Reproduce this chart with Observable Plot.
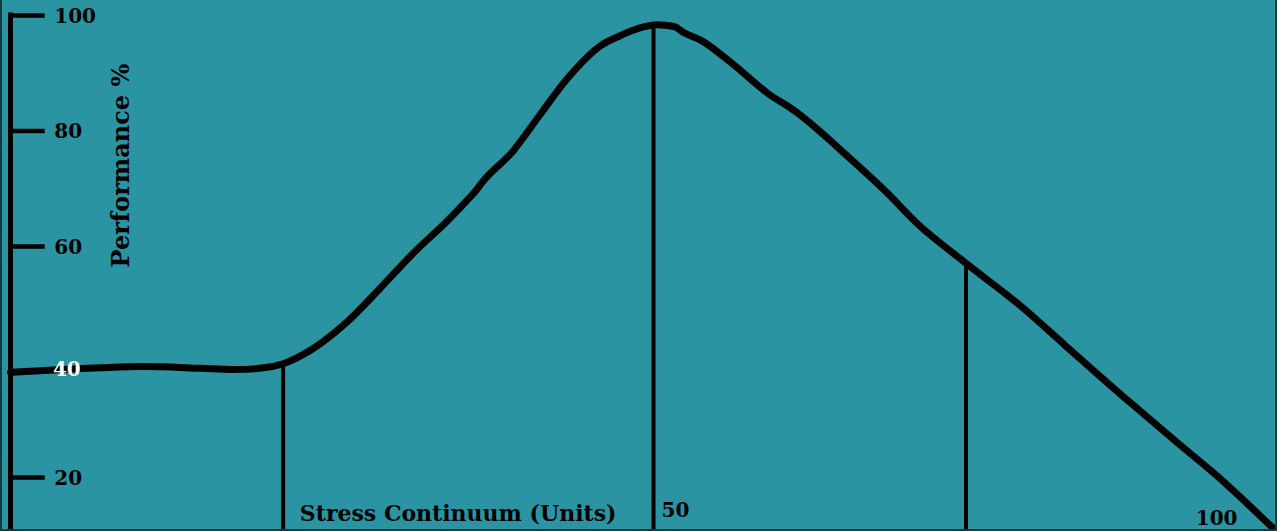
<!DOCTYPE html>
<html>
<head>
<meta charset="utf-8">
<script src="https://cdn.jsdelivr.net/npm/d3@7"></script>
<script src="https://cdn.jsdelivr.net/npm/@observablehq/plot@0.6"></script>
<style>
  html, body { margin: 0; padding: 0; background: #ffffff; }
  #wrap { position: relative; width: 1277px; height: 531px; overflow: hidden; }
  #wrap svg { display: block; }
  #edge { position: absolute; left: 0; top: 0; width: 1277px; height: 531px; box-sizing: border-box;
          border-left: 2px solid #0e3c42; border-right: 2px solid #0e3c42; border-bottom: 2px solid #0e3c42;
          pointer-events: none; }
</style>
</head>
<body>
<div id="wrap"><div id="edge"></div></div>
<script>
// ---- data ----
const yTicks = [20, 40, 60, 80, 100];
const yTickHidden = 40;            // tick mark hidden under the curve; its label is white
const xTickValues = [50, 100];
const xTickLabels = ["50", "100"];
const xTitle = "Stress Continuum (Units)";
const yTitle = "Performance %";

const stress = [0, 2.3, 7.0, 10.3, 14.8, 17.3, 19.4, 21.2, 22.6, 26.2, 28.8, 31.3, 34.0, 35.5, 36.2, 36.6,
  39.1, 41.2, 43.3, 45.9, 47.4, 49.0, 50.3, 51.6, 52.3, 53.7, 56.0, 58.9, 60.9, 65.3, 68.2, 70.4, 74.3, 78.5,
  82.0, 86.9, 90.8, 93.6, 98.2, 99.2];
const performance = [38.2, 38.5, 39.0, 39.2, 38.9, 38.7, 38.9, 39.7, 41.1, 47.0, 52.9, 58.8, 64.5, 68.0, 69.7, 70.9,
  76.6, 82.9, 89.1, 94.8, 96.5, 97.9, 98.4, 98.1, 97.1, 95.7, 91.9, 86.5, 83.6, 75.2, 69.2, 64.2, 57.1, 49.8,
  42.9, 33.3, 25.9, 20.7, 11.2, 9.1];

const dividerX = [21.2, 50, 74.3];
const dividerTop = [39.7, 98.4, 57.1];

// ---- tables ----
const curveData = stress.map((s, i) => ({s, p: performance[i]}));
const dividers = dividerX.map((x, i) => ({x, top: dividerTop[i]}));
const xLabels = xTickValues.map((v, i) => ({v, label: xTickLabels[i]}));

const font = "'DejaVu Serif', 'Liberation Serif', serif";

const chart = Plot.plot({
  width: 1277,
  height: 531,
  margin: 0,
  style: { background: "#2b94a2", fontFamily: font, overflow: "hidden" },
  x: { domain: [0, 100], range: [10, 1296], axis: null },
  y: { domain: [0, 100], range: [592.5, 15], axis: null },
  marks: [
    // y axis line
    Plot.ruleX([0], { y1: 0, y2: 100, stroke: "black", strokeWidth: 5, strokeLinecap: "square" }),
    // y ticks
    Plot.ruleY(yTicks.filter(d => d !== yTickHidden), { x1: 0, x2: 2.7, stroke: "black", strokeWidth: 4.5 }),
    // divider lines
    Plot.ruleX(dividers, { x: "x", y1: 0, y2: "top", stroke: "black", strokeWidth: 4 }),
    // curve
    Plot.line(curveData, { x: "s", y: "p", curve: "monotone-x", stroke: "black", strokeWidth: 7,
      strokeLinejoin: "round", strokeLinecap: "round" }),
    // y tick labels
    Plot.text(yTicks.filter(d => d !== yTickHidden), { x: 3.4, y: d => d, text: d => String(d), textAnchor: "start",
      fontSize: 20, fontWeight: "bold", fill: "black", dy: 1 }),
    Plot.text([yTickHidden], { x: 3.3, y: d => d, text: d => String(d), textAnchor: "start",
      fontSize: 20, fontWeight: "bold", fill: "white", dy: 8 }),
    // x tick labels
    Plot.text(xLabels.filter(d => d.v === 50), { x: "v", text: "label", frameAnchor: "bottom", lineAnchor: "bottom",
      textAnchor: "start", dx: 8, dy: -15, fontSize: 20, fontWeight: "bold", fill: "black" }),
    Plot.text(xLabels.filter(d => d.v === 100), { x: "v", text: "label", frameAnchor: "bottom", lineAnchor: "bottom",
      textAnchor: "end", dx: -59, dy: -7, fontSize: 20, fontWeight: "bold", fill: "black" }),
    // y title
    Plot.text([yTitle], { x: 8.6, y: 74, text: d => d, rotate: -90, fontSize: 24, fontWeight: "bold", fill: "black" }),
    // x title
    Plot.text([xTitle], { x: 22.5, text: d => d, frameAnchor: "bottom", lineAnchor: "bottom", textAnchor: "start",
      dy: -11, fontSize: 22, fontWeight: "bold", fill: "black" })
  ]
});

document.getElementById("wrap").prepend(chart);
</script>
</body>
</html>
